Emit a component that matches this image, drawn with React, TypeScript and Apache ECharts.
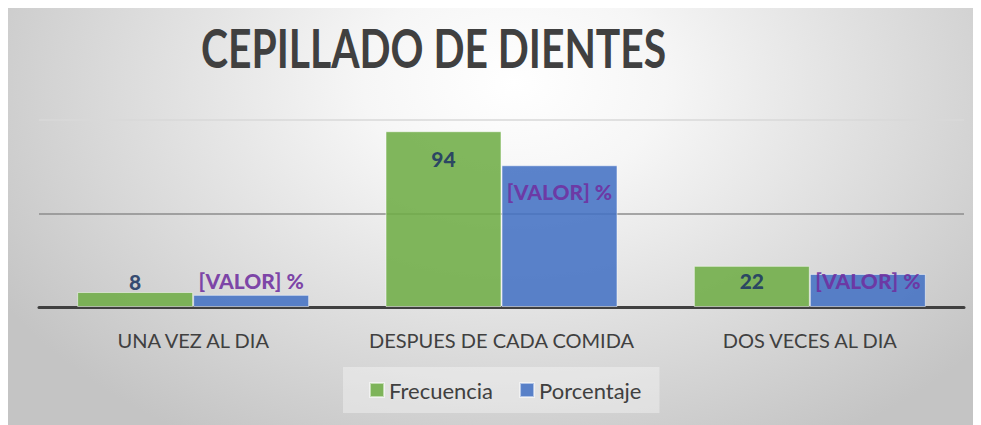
import React, { useEffect, useRef } from "react";
import * as echarts from "echarts";

const categories = ["UNA VEZ AL DIA", "DESPUES DE CADA COMIDA", "DOS VECES AL DIA"];
const frecuencia = [8, 94, 22];
const porcentaje = [6.5, 75.8, 17.7];
const seriesNames = ["Frecuencia", "Porcentaje"];
const titleText = "CEPILLADO DE DIENTES";
const percentLabel = "[VALOR] %";
const yMin = 0;
const yMax = 100;
const yInterval = 50;

// label vertical offsets relative to the top of each bar (px)
const freqLabelOffsets = [-11, 27, 15];
const pctLabelOffsets = [-14, 26, 7];

const FONT = "Lato, 'Noto Sans', sans-serif";

export default function App() {
  const ref = useRef<HTMLDivElement>(null);

  useEffect(() => {
    if (!ref.current) return;
    const chart = echarts.init(ref.current, undefined, { renderer: "svg" });

    const labelBase = {
      show: true,
      fontFamily: FONT,
      fontWeight: 900,
      fontSize: 21,
      align: "center" as const,
      verticalAlign: "middle" as const,
    };

    chart.setOption({
      animation: false,
      backgroundColor: "transparent",
      graphic: [
        {
          type: "text",
          x: 193,
          y: 39,
          scaleX: 0.77,
          style: {
            text: titleText,
            fontFamily: FONT,
            fontWeight: "bold",
            fontSize: 53,
            fill: "#404040",
            align: "left",
            verticalAlign: "middle",
          },
        },
      ],
      grid: { left: 31, right: 17, top: 112, bottom: 118, containLabel: false },
      legend: {
        data: seriesNames,
        left: 335,
        top: 359,
        orient: "horizontal",
        icon: "rect",
        itemWidth: 14,
        itemHeight: 14,
        itemGap: 26,
        padding: [12, 18, 12, 26],
        backgroundColor: "rgba(255,255,255,0.35)",
        textStyle: { fontFamily: FONT, fontSize: 22, color: "#404040" },
      },
      xAxis: {
        type: "category",
        data: categories,
        axisTick: { show: false },
        axisLine: { show: true, lineStyle: { color: "#404040", width: 3 } },
        axisLabel: {
          interval: 0,
          fontFamily: FONT,
          fontSize: 20,
          color: "#404040",
          margin: 23,
        },
      },
      yAxis: {
        type: "value",
        min: yMin,
        max: yMax,
        interval: yInterval,
        axisLabel: { show: false },
        axisLine: { show: false },
        axisTick: { show: false },
        splitLine: {
          show: true,
          lineStyle: { color: ["#7f7f7f", "#8c8c8c", "#d9d9d9"], width: 1.5 },
        },
      },
      series: [
        {
          name: seriesNames[0],
          type: "bar",
          barWidth: 116,
          barGap: "0%",
          itemStyle: {
            color: "#70AD47",
            opacity: 0.88,
            borderColor: "rgba(255,255,255,0.6)",
            borderWidth: 1,
          },
          data: frecuencia.map((v, i) => ({
            value: v,
            label: {
              ...labelBase,
              color: "#1F3864",
              position: ["50%", freqLabelOffsets[i]],
            },
          })),
        },
        {
          name: seriesNames[1],
          type: "bar",
          barWidth: 116,
          barGap: "0%",
          itemStyle: {
            color: "#4472C4",
            opacity: 0.88,
            borderColor: "rgba(255,255,255,0.6)",
            borderWidth: 1,
          },
          data: porcentaje.map((v, i) => ({
            value: v,
            label: {
              ...labelBase,
              color: "#7030A0",
              formatter: percentLabel,
              position: ["50%", pctLabelOffsets[i]],
            },
          })),
        },
      ],
    });

    return () => chart.dispose();
  }, []);

  return (
    <div
      ref={ref}
      style={{
        width: 973,
        height: 417,
        background:
          "radial-gradient(ellipse 62% 100% at 52% 18%, #ffffff 0%, #f6f6f6 25%, #c4c4c4 100%)",
      }}
    />
  );
}
